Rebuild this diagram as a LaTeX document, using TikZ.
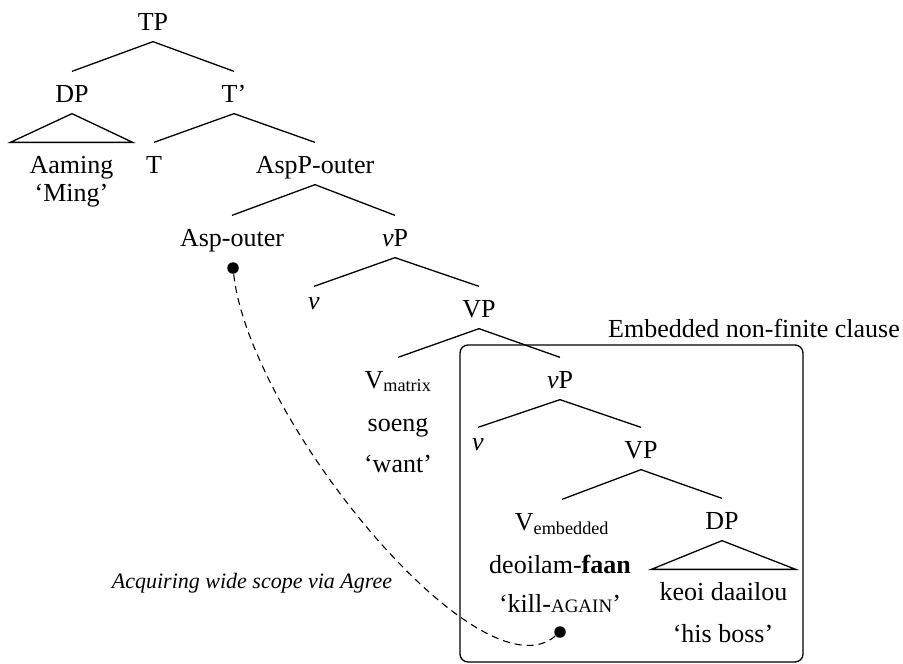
\documentclass[tikz,border=0pt]{standalone}
\usepackage{amsmath}
\usepackage{fontspec}
\setmainfont{Liberation Serif}
\usetikzlibrary{positioning}

\begin{document}
\begin{tikzpicture}[x=1pt,y=-1pt,line width=1.3pt,
  every node/.style={font=\fontsize{26}{30}\selectfont},
  cat/.style={anchor=base,text height=22pt,text depth=3pt,inner xsep=2pt,inner ysep=8pt},
  gloss/.style={anchor=base,inner sep=0pt},
  agr/.style={circle,fill,inner sep=0pt,minimum size=11.5pt}]
  \useasboundingbox (0,0) rectangle (903,664);
  % matrix clause
  \node[cat] (TP) at (153,30) {TP};
  \node[cat] (DP1) at (72,102) {DP};
  \node[cat] (T1) at (234,102) {T’};
  \node[cat,minimum width=121pt] (Aaming) at (71.5,173) {Aaming};
  \node[gloss] (Ming) at (71.5,201) {‘Ming’};
  \node[cat] (T) at (154,173) {T};
  \node[cat] (AspP) at (315,173) {AspP-outer};
  \node[cat] (Asp) at (232,246) {Asp-outer};
  \node[cat] (vP1) at (395,246) {\textit{ν}P};
  \node[cat,text height=14pt] (v1) at (314,309) {\textit{ν}};
  \node[cat] (VP1) at (479,317) {VP};
  \node[cat] (Vmat) at (398,388) {V$_{\text{matrix}}$};
  \node[gloss] (soeng) at (398,431) {soeng};
  \node[gloss] (want) at (398,472) {‘want’};
  % embedded clause
  \draw[rounded corners=8pt] (460,345) rectangle (803,662);
  \node[anchor=base] (emb) at (754,337) {Embedded non-finite clause};
  \node[cat] (vP2) at (560,388) {\textit{ν}P};
  \node[cat,text height=14pt] (v2) at (478,450) {\textit{ν}};
  \node[cat] (VP2) at (641,458) {VP};
  \node[cat] (Vemb) at (562,530) {V$_{\text{embedded}}$};
  \node[cat] (DP2) at (722,529) {DP};
  \node[gloss] (deoilam) at (560,573) {deoilam-\textbf{faan}};
  \node[gloss] (kill) at (560,612) {‘kill-{\fontsize{19}{20}\selectfont AGAIN}’};
  \node[cat,minimum width=143pt] (keoi) at (723.5,600) {keoi daailou};
  \node[gloss] (boss) at (723,642) {‘his boss’};
  % branches
  \foreach \p/\c in {TP/DP1,TP/T1,T1/T,T1/AspP,AspP/Asp,AspP/vP1,vP1/v1,vP1/VP1,
      VP1/Vmat,VP1/vP2,vP2/v2,vP2/VP2,VP2/Vemb,VP2/DP2}
    \draw (\p.south) -- (\c.north);
  % roofs
  \draw (DP1.south) -- (Aaming.north west) -- (Aaming.north east) -- cycle;
  \draw (DP2.south) -- (keoi.north west) -- (keoi.north east) -- cycle;
  % agree
  \node[agr] (probe) at (233,268) {};
  \node[agr] (goal) at (560,632) {};
  \draw[dash pattern=on 7pt off 5pt,line width=1.1pt] (probe) .. controls (250,420) and (480,700) .. (goal);
  \node[anchor=base,font=\fontsize{22}{26}\selectfont\itshape] (agree) at (252,588) {Acquiring wide scope via Agree};
\end{tikzpicture}
\end{document}
